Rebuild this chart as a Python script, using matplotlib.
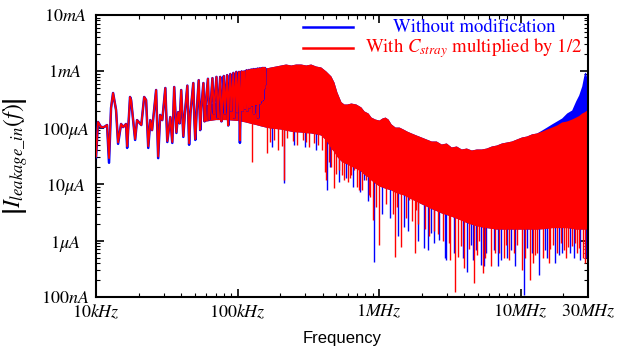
# -*- coding: utf-8 -*-
# leakage current spectrum, log-log, two cases
import numpy as np
import matplotlib
matplotlib.use('Agg')
import matplotlib.pyplot as plt

plt.rcParams['mathtext.fontset'] = 'stix'
plt.rcParams['font.family'] = ['STIXGeneral', 'DejaVu Sans']

# ---- low frequency part (distinct harmonics), kHz / uA ----
lf_freq = [10.0, 10.33, 10.85, 11.4, 11.97, 12.36, 12.77, 13.2, 13.86, 14.32, 15.04, 15.54,
           16.3, 16.6, 17.4, 17.7, 18.9, 19.5, 20.9, 21.9, 22.6, 23.4, 24.2, 24.9, 26.6,
           27.5, 28.4, 29.4, 30.9, 31.9, 33.5, 34.6, 35.7, 37.0, 38.1, 39.0, 40.0, 41.4,
           42.5, 44.2, 45.5, 46.5, 48.7, 49.5, 50.3, 51.5, 53.2, 54.5, 55.5, 57.4, 58.5,
           59.5, 61.8, 63.0, 64.5, 66.5, 68.0, 69.0, 71.0, 72.5, 73.5, 75.5, 77.0, 78.5,
           80.0, 81.5, 82.5, 84.5, 86.0, 87.0, 89.0, 90.5, 91.5, 93.5, 95.0, 96.0, 98.0,
           99.5, 100.5, 102.5, 104.0, 105.5, 107.0, 108.5, 110.0, 111.5, 113.0, 114.5,
           116.0, 117.5, 119.0, 120.5, 122.0, 123.5, 125.0, 126.5, 128.0, 129.5, 131.0,
           132.5, 134.0, 135.5, 137.0, 138.5, 140.0, 141.5, 143.0, 144.5, 146.0, 147.5,
           149.0, 150.5, 152.0, 153.5, 155.0, 156.5, 158.0]
lf_blue = [30, 127, 103, 103, 112, 24, 224, 414, 207, 52, 117, 103,
           117, 44, 352, 311, 61, 137, 112, 352, 311, 44, 137, 91, 468,
           29, 169, 137, 508, 56, 155, 54, 529, 81, 190, 120, 468, 69,
           183, 560, 50, 180, 622, 150, 61, 200, 700, 91, 220, 622, 130,
           250, 740, 140, 250, 760, 180, 300, 800, 150, 280, 800, 130, 300,
           830, 180, 330, 860, 110, 320, 900, 200, 350, 940, 150, 360, 980,
           190, 380, 980, 54, 380, 1000, 200, 400, 1000, 220, 420,
           1050, 200, 420, 1060, 230, 440, 1080, 250, 450, 1100, 180,
           460, 1100, 260, 480, 1120, 150, 500, 1130, 270, 500, 1140,
           300, 1150, 320, 1150, 500, 1150, 600]
lf_red = [31, 127, 103, 103, 112, 29, 224, 414, 207, 55, 117, 103,
          117, 47, 352, 311, 63, 137, 112, 352, 311, 47, 137, 91, 468,
          31, 169, 137, 508, 58, 155, 56, 529, 83, 190, 120, 468, 71,
          183, 560, 53, 180, 622, 150, 63, 200, 700, 93, 220, 622, 130,
          250, 740, 140, 250, 760, 180, 300, 800, 150, 280, 800, 130, 300,
          830, 180, 330, 860, 110, 320, 900, 200, 350, 940, 150, 360, 980,
          190, 380, 980, 60, 380, 1000, 200, 400, 1000, 220, 420,
          1050, 200, 420, 1060, 230, 440, 1080, 250, 450, 1100, 180,
          460, 1100, 260, 480, 1120, 150, 500, 1130, 270, 500, 1140,
          300, 1150, 320, 1150, 500, 1150, 600]

# ---- dense part: envelope of the spectrum, kHz / uA ----
band_freq = [57.4, 70, 82, 100, 112, 124, 135, 146, 158, 171, 186, 202, 219, 238, 258, 280,
             304, 329, 357, 388, 421, 457, 480, 504, 538, 565, 593, 633, 687, 745, 783, 836,
             878, 937, 1000, 1050, 1103, 1158, 1217, 1299, 1387, 1480, 1580, 1687, 1830,
             1986, 2154, 2338, 2537, 2753, 2987, 3241, 3517, 3816, 4140, 4493, 4875, 5290,
             5740, 6228, 6758, 7333, 7957, 8634, 9368, 10165, 11030, 11968, 12987, 14091,
             15290, 16591, 18002, 19534, 21195, 22999, 24551, 25782, 27079, 27980, 28442,
             28908, 29385, 29867, 30000]
top_red = [250, 280, 320, 380, 450, 560, 750, 1000, 1149, 1197, 1247, 1299, 1352, 1299,
           1352, 1352, 1299, 1352, 1247, 1197, 1016, 829, 649, 431, 290, 264, 264, 275,
           264, 234, 199, 183, 155, 143, 137, 149, 155, 143, 117, 103, 103, 95, 87, 81,
           74.5, 68.7, 63.3, 58.3, 58.3, 51.6, 53.8, 45.7, 47.6, 42.1, 43.8, 40.4, 42.1,
           42.1, 43.8, 47.6, 49.5, 53.8, 56.0, 58.3, 63.3, 68.7, 71.5, 78, 81, 87,
           95, 103, 112, 127, 132, 143, 155, 165, 183, 190, 195,
           200, 207, 215, 224]
top_blue = [250, 280, 320, 380, 450, 560, 750, 1000, 1149, 1197, 1247, 1299, 1352, 1299,
            1352, 1352, 1299, 1352, 1247, 1197, 1016, 829, 649, 431, 290, 264, 264, 275,
            264, 234, 199, 183, 155, 143, 137, 149, 155, 143, 117, 103, 103, 95, 87, 81,
            74.5, 68.7, 63.3, 58.3, 58.3, 51.6, 53.8, 45.7, 47.6, 42.1, 43.8, 40.4, 42.1,
            42.1, 43.8, 47.6, 49.5, 53.8, 56.0, 58.3, 63.3, 68.7, 71.5, 78, 81, 91,
            103, 117, 132, 149, 183, 207, 300, 382, 551, 829, 976,
            937, 764, 598, 431]
band_bot = [130, 140, 140, 135, 128, 120, 114, 108, 103, 99, 97, 95, 91, 87, 85, 84,
            82, 81, 78, 74.5, 60.8, 43.8, 38, 31, 26, 24, 23, 21, 19, 17, 15, 13.5,
            11.9, 10.5, 9.3, 8.9, 8.5, 8.2, 7.9, 7.2, 6.8, 6.5, 6.0, 5.5, 5.0,
            4.5, 4.1, 3.7, 3.4, 3.1, 2.9, 2.7, 2.5, 2.3, 2.1, 1.95, 1.85, 1.75,
            1.7, 1.65, 1.6, 1.6, 1.6, 1.6, 1.6, 1.6, 1.6, 1.6, 1.6, 1.62,
            1.65, 1.7, 1.7, 1.7, 1.7, 1.65, 1.6, 1.6, 1.6, 1.6, 1.6,
            1.6, 1.6, 1.6, 1.6]

# ---- dips below the envelope, kHz / uA ----
red_dip_f = [127, 161, 170, 180, 194, 205, 214, 225, 245, 265, 290, 304, 320, 348, 370, 395,
             414, 421, 440, 460, 480, 500, 519, 552, 570, 603, 620, 633, 666, 700, 719, 760,
             809, 850, 870, 906, 950, 1000, 1086, 1120, 1177, 1250, 1299, 1350, 1432, 1550,
             1618, 1700, 1796, 1830, 1900, 2100, 2250, 2450, 2600, 2850, 3100, 3200, 3460,
             3640, 3800, 4000, 4300, 4710, 4900, 5100, 5470, 5600, 6230, 6600, 6990, 7600,
             7960, 8300, 9000, 9370, 10300, 10800, 11700, 12200, 12570, 13000, 14400,
             15800, 16200, 17100, 18000, 19300, 20200, 20800, 21600, 23000, 24100, 25000,
             25880, 27500, 28440, 29900]
red_dip_i = [24.7, 35.7, 55, 60, 40.4, 48, 11.9, 65.9, 58, 50, 62, 56, 45, 53.8, 50, 40,
             16.5, 11.9, 25, 20, 8.5, 15, 18, 14.6, 12, 10.9, 13, 14.6, 17.9, 9, 7.9, 8,
             12, 6.5, 6, 2.32, 4, 0.836, 8.9, 4.5, 10.5, 3, 0.512, 4, 0.77, 2.5,
             5.25, 2.2, 0.603, 3.49, 2.0, 1.6, 1.2, 1.5, 1.3, 1.0, 0.9, 0.453, 0.123,
             0.512, 0.8, 0.327, 0.7, 0.177, 0.55, 1.0, 0.266, 0.5, 0.36, 0.6, 0.603, 0.5,
             0.84, 0.45, 0.6, 0.84, 0.301, 0.5, 0.2, 0.4, 0.55, 0.6, 0.5,
             0.401, 0.7, 0.84, 0.6, 0.9, 0.68, 0.5, 0.77, 0.8, 0.9, 0.6,
             0.739, 0.5, 0.401, 1.36]
blue_dip_f = [175, 214, 250, 300, 360, 430, 450, 520, 583, 650, 731, 783, 840, 920, 1050,
              1200, 1358, 1505, 1600, 1900, 2072, 2220, 2338, 2450, 2640, 2920, 2970, 3400,
              3900, 4200, 4490, 4600, 4875, 5290, 5500, 5740, 6500, 6900, 7330, 8000, 8630,
              9200, 10500, 11030, 12000, 13450, 14800, 15500, 17500, 18600, 19800, 22200,
              24000, 26500, 29000]
blue_dip_i = [45, 10.5, 50, 45, 40, 7.9, 20, 11, 12.9, 9, 7.27, 11.9, 5, 0.417, 3,
              2.5, 1.2, 1.74, 1.5, 1.0, 0.739, 0.68, 1.36, 0.9, 1.02, 0.49, 0.453, 0.6,
              0.5, 0.277, 0.84, 0.45, 0.68, 0.369, 0.35, 0.603, 0.68, 0.35, 0.453, 0.5, 0.68,
              0.35, 0.108, 0.74, 0.6, 0.246, 0.68, 0.5, 0.4, 0.555, 0.6, 0.6,
              0.5, 0.45, 0.5]

yticks = [1e-7, 1e-6, 1e-5, 1e-4, 1e-3, 1e-2]
ylabels = [r'$100nA$', r'$1\mu A$', r'$10\mu A$', r'$100\mu A$', r'$1mA$', r'$10mA$']
xticks = [1e4, 1e5, 1e6, 1e7, 3e7]
xlabels = [r'$10kHz$', r'$100kHz$', r'$1MHz$', r'$10MHz$', r'$30MHz$']


def draw_case(ax, lf_i, top, dip_f, dip_i, color, lw):
    kHz, uA = 1e3, 1e-6
    bf = np.array(band_freq) * kHz
    ax.fill_between(bf, np.array(band_bot) * uA, np.array(top) * uA,
                    color=color, lw=0, zorder=2)
    ax.plot(np.array(lf_freq) * kHz, np.array(lf_i) * uA, color=color, lw=lw, zorder=3)
    # spikes start inside the band
    df = np.array(dip_f) * kHz
    start = 10 ** np.interp(np.log10(df), np.log10(bf), np.log10(np.array(band_bot) * uA)) * 1.5
    ax.vlines(df, np.array(dip_i) * uA, start, color=color, lw=1.0, zorder=2)


fig = plt.figure(figsize=(6.21, 3.54), dpi=100)
ax = fig.add_axes([0.1546, 0.161, 0.7923, 0.7966])

draw_case(ax, lf_blue, top_blue, blue_dip_f, blue_dip_i, 'blue', 1.8)
draw_case(ax, lf_red, top_red, red_dip_f, red_dip_i, 'red', 1.3)

ax.set_xscale('log')
ax.set_yscale('log')
ax.set_xlim(1e4, 3e7)
ax.set_ylim(1e-7, 1e-2)
ax.set_xticks(xticks)
ax.set_xticklabels(xlabels, fontsize=13)
ax.set_yticks(yticks)
ax.set_yticklabels(ylabels, fontsize=13, ha='center')
ax.xaxis.set_minor_formatter(matplotlib.ticker.NullFormatter())
ax.yaxis.set_minor_formatter(matplotlib.ticker.NullFormatter())
ax.tick_params(which='both', direction='in', top=True, right=True)
ax.tick_params(axis='y', which='major', length=6, width=1.2, pad=22)
ax.tick_params(axis='x', which='major', length=6, width=1.2, pad=4)
ax.tick_params(which='minor', length=3, width=0.8)
for s in ax.spines.values():
    s.set_linewidth(1.5)

ax.set_xlabel('Frequency', fontsize=12, family='Liberation Sans')
ax.xaxis.set_label_coords(0.5, -0.12)
ax.set_ylabel(r'$\left|I_{leakage\_in}\left(f\right)\right|$', fontsize=17)
ax.yaxis.set_label_coords(-0.135, 0.5)

# legend drawn by hand (text centred)
ax.plot([0.421, 0.522], [0.957, 0.957], color='blue', lw=1.8, transform=ax.transAxes, zorder=5)
ax.plot([0.421, 0.522], [0.883, 0.883], color='red', lw=1.8, transform=ax.transAxes, zorder=5)
ax.text(0.768, 0.957, 'Without modification', color='blue', fontsize=13.5,
        ha='center', va='center', transform=ax.transAxes, zorder=5)
ax.text(0.768, 0.883, r'With $C_{stray}$ multiplied by 1/2', color='red', fontsize=13.5,
        ha='center', va='center', transform=ax.transAxes, zorder=5)

fig.savefig('out.png', dpi=100)
